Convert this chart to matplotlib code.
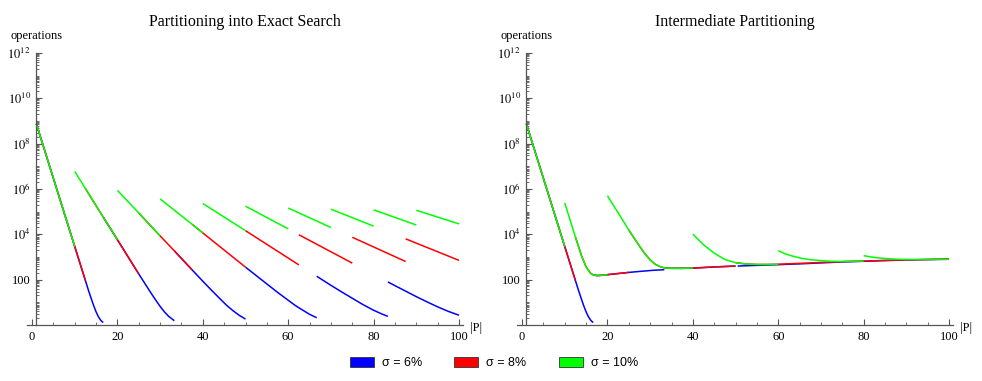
import numpy as np
import matplotlib.pyplot as plt
from matplotlib.patches import Patch
from matplotlib.ticker import FixedLocator, FuncFormatter

plt.rcParams['font.family'] = ['Liberation Serif', 'DejaVu Serif']
plt.rcParams['font.size'] = 9
plt.rcParams['mathtext.fontset'] = 'stix'

sigmas = [0.06, 0.08, 0.10]
sigma_labels = ['σ = 6%', 'σ = 8%', 'σ = 10%']
colors = ['#0000ff', '#ff0000', '#00ff00']

# log10(operations), one curve per number of pieces
ex1_p = [1, 10, 12.5, 13.25, 14, 14.5, 15, 15.5, 16, 16.33, 16.67]
ex1_v = [8.88, 3.46, 1.96, 1.51, 1.09, 0.82, 0.58, 0.38, 0.23, 0.16, 0.11]
ex2_p = [10, 12.5, 16.67, 20, 25, 26.5, 28, 29, 30, 31, 32, 33.33]
ex2_v = [6.77, 6.02, 4.76, 3.76, 2.25, 1.81, 1.37, 1.09, 0.82, 0.58, 0.38, 0.19]
ex3_p = [20, 25, 30, 33.33, 37.5, 40, 42, 44, 45.5, 47, 48.5, 50]
ex3_v = [5.94, 4.94, 3.93, 3.27, 2.43, 1.93, 1.54, 1.16, 0.88, 0.64, 0.43, 0.26]
ex4_p = [30, 37.5, 40, 50, 55, 57.5, 60, 61.5, 63, 65, 66.67]
ex4_v = [5.56, 4.44, 4.06, 2.55, 1.81, 1.44, 1.09, 0.88, 0.70, 0.47, 0.32]
ex5_p = [40, 50, 62.5, 66.67, 70, 72.5, 75, 77.5, 80, 82, 83.33]
ex5_v = [5.36, 4.16, 2.65, 2.15, 1.75, 1.46, 1.18, 0.90, 0.65, 0.48, 0.38]
ex6_p = [50, 60, 62.5, 75, 83.33, 87, 90, 92.5, 95, 97.5, 100]
ex6_v = [5.24, 4.24, 3.98, 2.73, 1.90, 1.54, 1.25, 1.02, 0.80, 0.60, 0.43]
ex7_p = [60, 70, 75, 87.5]
ex7_v = [5.16, 4.30, 3.87, 2.80]
ex8_p = [70, 80, 87.5, 100]
ex8_v = [5.11, 4.36, 3.80, 2.85]
ex9_p = [80, 90]
ex9_v = [5.08, 4.41]
ex10_p = [90, 100]
ex10_v = [5.06, 4.46]

# right panel (intermediate partitioning) curves
im_b_p = [10, 11, 12, 12.5, 13, 14, 15, 16, 16.67, 17.5, 18.5, 20, 22.5, 25, 28, 30.5, 33.33]
im_b_v = [5.38, 4.78, 4.18, 3.88, 3.59, 3.02, 2.56, 2.29, 2.21, 2.18, 2.19, 2.22, 2.27, 2.32, 2.37, 2.41, 2.44]
im_c_p = [20, 21.25, 22.5, 23.75, 25, 26.25, 27.5, 28.75, 30, 31.25, 32.5, 33.33, 35, 37.5, 40, 45, 50]
im_c_v = [5.70, 5.32, 4.95, 4.57, 4.19, 3.83, 3.48, 3.15, 2.87, 2.67, 2.56, 2.52, 2.50, 2.50, 2.51, 2.56, 2.60]
im_d_p = [40, 42.5, 45, 47.5, 50, 52.5, 55, 57.5, 60, 62.5, 66.67, 70, 75]
im_d_v = [4.01, 3.54, 3.17, 2.89, 2.75, 2.69, 2.67, 2.67, 2.68, 2.70, 2.73, 2.76, 2.79]
im_e_p = [60, 61.5, 63.5, 65.5, 67.5, 70, 72.5, 75, 80, 85, 90, 95, 100]
im_e_v = [3.28, 3.15, 3.03, 2.94, 2.88, 2.84, 2.81, 2.80, 2.82, 2.85, 2.87, 2.89, 2.91]
im_f_p = [80, 82, 84, 86, 88, 90, 95, 100]
im_f_v = [3.06, 2.99, 2.95, 2.92, 2.90, 2.89, 2.89, 2.90]
im_g_p = [50.5, 55, 60, 66.67, 70, 75, 80, 83.33, 90, 100]
im_g_v = [2.60, 2.63, 2.66, 2.71, 2.74, 2.78, 2.81, 2.83, 2.87, 2.90]

exact_curves = [(ex1_p, ex1_v), (ex2_p, ex2_v), (ex3_p, ex3_v), (ex4_p, ex4_v),
                (ex5_p, ex5_v), (ex6_p, ex6_v), (ex7_p, ex7_v), (ex8_p, ex8_v),
                (ex9_p, ex9_v), (ex10_p, ex10_v)]
im_curves = {'a': (ex1_p, ex1_v), 'b': (im_b_p, im_b_v), 'c': (im_c_p, im_c_v),
             'd': (im_d_p, im_d_v), 'e': (im_e_p, im_e_v), 'f': (im_f_p, im_f_v),
             'g': (im_g_p, im_g_v)}
# which curve each sigma follows on which |P| range
im_blue = [('a', 1, 16.67), ('b', 16.67, 33.33), ('c', 33.33, 50), ('g', 50.5, 100)]
im_red = [('a', 1, 12.5), ('b', 12.5, 25), ('c', 25, 50), ('d', 50, 75), ('e', 75, 100)]
im_green = [('a', 1, 10), ('b', 10, 20), ('c', 20, 40), ('d', 40, 60), ('e', 60, 80), ('f', 80, 100)]
im_segments = [im_blue, im_red, im_green]


def draw_piece(ax, p, v, lo, hi, color):
    p = np.array(p)
    v = np.array(v)
    keep = (p >= lo - 0.01) & (p <= hi + 0.01)
    ax.plot(p[keep], 10.0 ** v[keep], color=color, lw=1.1, solid_capstyle='butt')


def style_axes(ax):
    ax.set_yscale('log')
    ax.set_xlim(-1.2, 101)
    ax.set_ylim(1, 1e12)
    for s in ['top', 'right']:
        ax.spines[s].set_visible(False)
    ax.spines['left'].set_position(('data', 1))
    for s in ['left', 'bottom']:
        ax.spines[s].set_color('#555555')
        ax.spines[s].set_linewidth(0.9)
    ax.xaxis.set_major_locator(FixedLocator([0, 20, 40, 60, 80, 100]))
    ax.xaxis.set_minor_locator(FixedLocator([5, 10, 15, 25, 30, 35, 45, 50, 55, 65, 70, 75, 85, 90, 95]))
    ax.yaxis.set_major_locator(FixedLocator([1e2, 1e4, 1e6, 1e8, 1e10, 1e12]))
    minors = []
    for d in range(0, 12):
        minors += [k * 10.0 ** d for k in range(2, 10)]
        if d % 2 == 1:
            minors.append(10.0 ** d)
    ax.yaxis.set_minor_locator(FixedLocator(minors))
    ax.yaxis.set_major_formatter(FuncFormatter(
        lambda y, pos: '100' if abs(y - 100) < 1 else r'$10^{%d}$' % round(np.log10(y))))
    ax.yaxis.set_minor_formatter(FuncFormatter(lambda y, pos: ''))
    ax.tick_params(which='both', direction='in', color='#555555', labelsize=9)
    ax.tick_params(which='major', length=4, width=0.8, pad=4)
    ax.tick_params(which='minor', length=2, width=0.6)
    ax.annotate('operations', xy=(1, 1e12), xytext=(0, 12), textcoords='offset points',
                ha='center', va='center', fontsize=9, annotation_clip=False)
    ax.annotate('|P|', xy=(101, 1), xytext=(5, -2), textcoords='offset points',
                ha='left', va='center', fontsize=9, annotation_clip=False)


fig = plt.figure(figsize=(9.82, 3.81), dpi=100)
ax1 = fig.add_axes([0.0274, 0.147, 0.4444, 0.714])
ax2 = fig.add_axes([0.5264, 0.147, 0.4444, 0.714])

# left: exact search, pieces = j + 1 for |P| in [j/sigma, (j+1)/sigma]
for sigma, color in zip(sigmas, colors):
    j = 0
    while j / sigma < 100 - 1e-6:
        lo = max(1, j / sigma)
        hi = min(100, (j + 1) / sigma)
        p, v = exact_curves[j]
        draw_piece(ax1, p, v, lo, hi, color)
        j += 1

# right: intermediate partitioning
for segs, color in zip(im_segments, colors):
    for key, lo, hi in segs:
        p, v = im_curves[key]
        draw_piece(ax2, p, v, lo, hi, color)

for ax in (ax1, ax2):
    style_axes(ax)

fig.text(0.2496, 0.942, 'Partitioning into Exact Search', ha='center', va='center', fontsize=11.5)
fig.text(0.7487, 0.942, 'Intermediate Partitioning', ha='center', va='center', fontsize=11.5)

handles = [Patch(facecolor=c, edgecolor='#333333', linewidth=0.6) for c in colors]
fig.legend(handles, sigma_labels, loc='center', bbox_to_anchor=(0.5030, 0.047), ncol=3,
           frameon=False, handlelength=1.9, handleheight=0.8, handletextpad=0.65,
           columnspacing=2.6, prop={'family': 'Liberation Sans', 'size': 9})

fig.savefig('out.png', dpi=100)
